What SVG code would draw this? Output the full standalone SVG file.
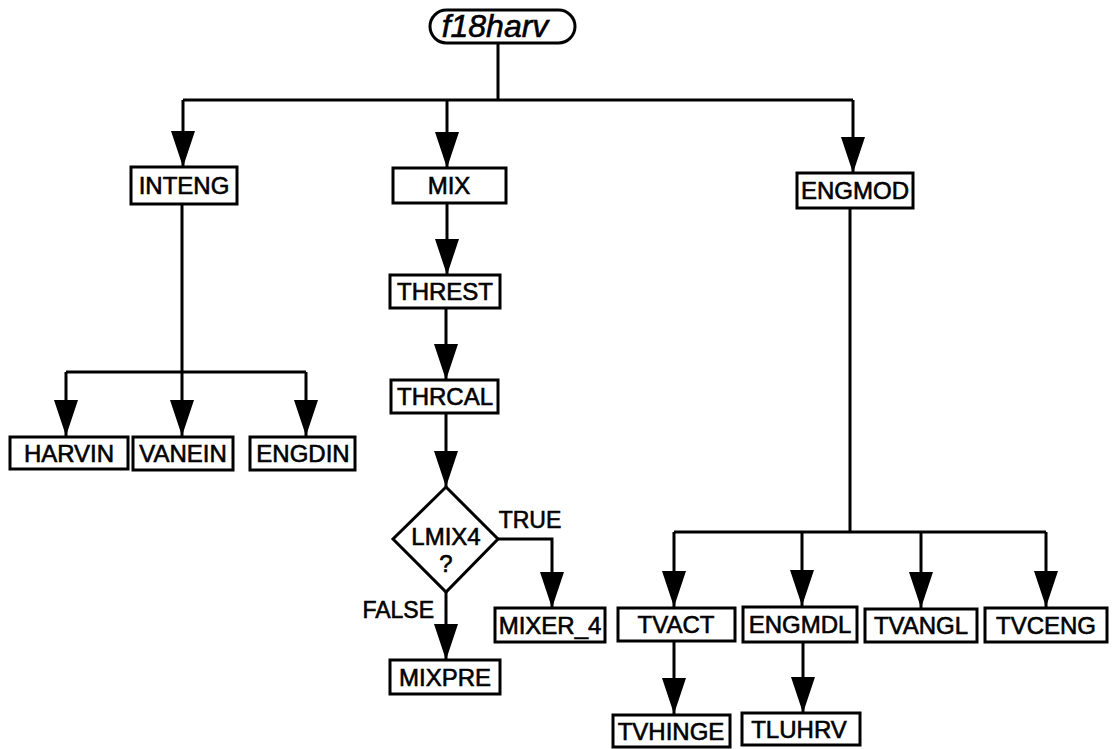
<svg xmlns="http://www.w3.org/2000/svg" width="1112" height="749" viewBox="0 0 1112 749">
<style>
.box{fill:#fff;stroke:#000;stroke-width:3}
.t{font-family:"Liberation Sans",Arial,sans-serif;font-size:24px;fill:#000;stroke:#000;stroke-width:0.6;text-anchor:middle}
.c{fill:none;stroke:#000;stroke-width:3}
</style>
<defs>
<marker id="ah" viewBox="0 0 36 24" refX="36" refY="12" markerWidth="36" markerHeight="24" markerUnits="userSpaceOnUse" orient="auto">
<path d="M0,0 L36,12 L0,24 Z" fill="#000"/>
</marker>
</defs>
<rect width="1112" height="749" fill="#fff"/>
<g id="connectors">
<path class="c" d="M498,43 V100"/>
<path class="c" d="M183,100 H853"/>
<path class="c" d="M183,100 V167" marker-end="url(#ah)"/>
<path class="c" d="M447,100 V168" marker-end="url(#ah)"/>
<path class="c" d="M853,100 V173" marker-end="url(#ah)"/>
<path class="c" d="M182,204 V372"/>
<path class="c" d="M66,372 H306"/>
<path class="c" d="M66,372 V436" marker-end="url(#ah)"/>
<path class="c" d="M182,372 V436" marker-end="url(#ah)"/>
<path class="c" d="M306,372 V436" marker-end="url(#ah)"/>
<path class="c" d="M447,203 V275" marker-end="url(#ah)"/>
<path class="c" d="M446,308 V380" marker-end="url(#ah)"/>
<path class="c" d="M446,413 V487" marker-end="url(#ah)"/>
<path class="c" d="M498,539 H552 V608" marker-end="url(#ah)"/>
<path class="c" d="M446,592 V660" marker-end="url(#ah)"/>
<path class="c" d="M850,208 V532"/>
<path class="c" d="M674,532 H1046"/>
<path class="c" d="M674,532 V607" marker-end="url(#ah)"/>
<path class="c" d="M802,532 V606" marker-end="url(#ah)"/>
<path class="c" d="M921,532 V608" marker-end="url(#ah)"/>
<path class="c" d="M1046,532 V607" marker-end="url(#ah)"/>
<path class="c" d="M674,641 V714" marker-end="url(#ah)"/>
<path class="c" d="M803,642 V713" marker-end="url(#ah)"/>
</g>
<g id="f18harv">
<rect class="box" x="430" y="10" width="145" height="33" rx="16.5"/>
<text class="t" x="495" y="37" style="font-size:32px;font-style:italic">f18harv</text>
</g>
<g id="INTENG"><rect class="box" x="131" y="167" width="106" height="37"/><text class="t" x="184" y="194">INTENG</text></g>
<g id="MIX"><rect class="box" x="393" y="168" width="113" height="35"/><text class="t" x="449" y="194">MIX</text></g>
<g id="ENGMOD"><rect class="box" x="797" y="173" width="116" height="35"/><text class="t" x="855" y="199">ENGMOD</text></g>
<g id="HARVIN"><rect class="box" x="10" y="437" width="118" height="32"/><text class="t" x="69" y="462">HARVIN</text></g>
<g id="VANEIN"><rect class="box" x="133" y="437" width="100" height="33"/><text class="t" x="183" y="462">VANEIN</text></g>
<g id="ENGDIN"><rect class="box" x="250" y="437" width="105" height="33"/><text class="t" x="303" y="462">ENGDIN</text></g>
<g id="THREST"><rect class="box" x="390" y="275" width="110" height="33"/><text class="t" x="445" y="300">THREST</text></g>
<g id="THRCAL"><rect class="box" x="391" y="380" width="107" height="33"/><text class="t" x="445" y="405">THRCAL</text></g>
<g id="LMIX4">
<polygon class="box" points="446,487 498,539 446,592 393,539"/>
<text class="t" x="446" y="545">LMIX4</text>
<text class="t" x="446" y="572">?</text>
</g>
<text class="t" x="530" y="528" style="font-size:23px">TRUE</text>
<text class="t" x="434" y="618" style="font-size:23px;text-anchor:end">FALSE</text>
<g id="MIXER_4"><rect class="box" x="495" y="608" width="110" height="34"/><text class="t" x="550" y="634">MIXER_4</text></g>
<g id="MIXPRE"><rect class="box" x="390" y="660" width="110" height="34"/><text class="t" x="445" y="686">MIXPRE</text></g>
<g id="TVACT"><rect class="box" x="618" y="608" width="117" height="33"/><text class="t" x="676" y="633">TVACT</text></g>
<g id="ENGMDL"><rect class="box" x="743" y="607" width="114" height="35"/><text class="t" x="800" y="633">ENGMDL</text></g>
<g id="TVANGL"><rect class="box" x="865" y="609" width="112" height="33"/><text class="t" x="921" y="634">TVANGL</text></g>
<g id="TVCENG"><rect class="box" x="985" y="608" width="122" height="34"/><text class="t" x="1046" y="634">TVCENG</text></g>
<g id="TVHINGE"><rect class="box" x="613" y="715" width="117" height="32"/><text class="t" x="671" y="740">TVHINGE</text></g>
<g id="TLUHRV"><rect class="box" x="742" y="713" width="118" height="32"/><text class="t" x="799" y="738">TLUHRV</text></g>
</svg>
